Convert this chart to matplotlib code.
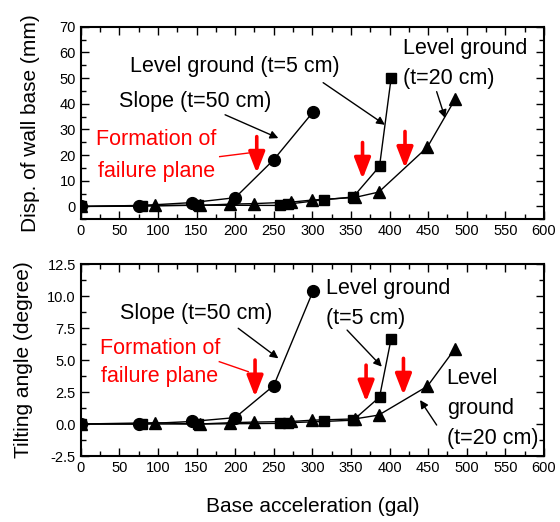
import matplotlib
matplotlib.use("Agg")
import matplotlib.pyplot as plt
from matplotlib.ticker import MultipleLocator, FormatStrFormatter

plt.rcParams['font.family'] = ['Liberation Sans', 'DejaVu Sans']

# ---- data ----
acc_slope = [0, 75, 144, 200, 250, 301]
disp_slope = [0, 0.3, 1.5, 3.4, 18.2, 36.8]
tilt_slope = [0, 0.0, 0.2, 0.5, 3.0, 10.4]

acc_lg5 = [0, 80, 152, 258, 268, 315, 353, 387, 402]
disp_lg5 = [0, 0.1, 0.5, 0.4, 0.9, 2.6, 3.7, 15.6, 49.9]
tilt_lg5 = [0, 0.0, 0.0, 0.05, 0.1, 0.2, 0.3, 2.1, 6.65]

acc_lg20 = [0, 96, 154, 193, 224, 273, 300, 355, 386, 449, 485]
disp_lg20 = [0, 0.5, 0.4, 0.9, 1.1, 1.7, 2.5, 3.5, 5.6, 23.1, 41.8]
tilt_lg20 = [0, 0.1, 0.0, 0.1, 0.15, 0.2, 0.3, 0.4, 0.7, 2.95, 5.9]

xticks = [0, 50, 100, 150, 200, 250, 300, 350, 400, 450, 500, 550, 600]

fig = plt.figure(figsize=(5.6, 5.22), dpi=100)
ax1 = fig.add_axes([0.1441, 0.5799, 0.8273, 0.369])
ax2 = fig.add_axes([0.1441, 0.1264, 0.8273, 0.3678])

def style(ax):
    ax.set_xlim(0, 600)
    ax.set_xticks(xticks)
    ax.xaxis.set_minor_locator(MultipleLocator(25))
    ax.tick_params(which='both', direction='in', top=True, right=True,
                   labelsize=10.5, width=1.0)
    ax.tick_params(which='major', length=6)
    ax.tick_params(which='minor', length=3.5)
    for s in ax.spines.values():
        s.set_linewidth(1.5)

def plot_series(ax, s, l5, l20):
    ax.plot(acc_slope, s, '-o', color='black', lw=1, ms=8.5, zorder=3)
    ax.plot(acc_lg5, l5, '-s', color='black', lw=1, ms=7, zorder=3)
    ax.plot(acc_lg20, l20, '-^', color='black', lw=1, ms=8.5, zorder=3)

def black_arrow(ax, x0, y0, x1, y1):
    ax.annotate('', xy=(x1, y1), xytext=(x0, y0),
                arrowprops=dict(arrowstyle='-|>', color='black', lw=1,
                                mutation_scale=12, shrinkA=0, shrinkB=0))

def red_arrow(ax, x, y0, y1):
    ax.annotate('', xy=(x, y1), xytext=(x, y0),
                arrowprops=dict(arrowstyle='-|>,head_length=0.9,head_width=0.35',
                                color='red', lw=2.6,
                                mutation_scale=14, shrinkA=0, shrinkB=0))

fs = 15.5

# ---- top panel ----
style(ax1)
ax1.set_ylim(-5, 70)
ax1.yaxis.set_major_locator(MultipleLocator(10))
ax1.yaxis.set_minor_locator(MultipleLocator(5))
plot_series(ax1, disp_slope, disp_lg5, disp_lg20)
ax1.set_ylabel('Disp. of wall base (mm)', fontsize=15, labelpad=14)

ax1.text(200, 54.5, 'Level ground (t=5 cm)', fontsize=fs, ha='center', va='center')
black_arrow(ax1, 314, 48.2, 394, 31.8)
ax1.text(148, 40.8, 'Slope (t=50 cm)', fontsize=fs, ha='center', va='center')
black_arrow(ax1, 187, 35.7, 256, 26.6)
ax1.text(418, 61.6, 'Level ground', fontsize=fs, ha='left', va='center')
ax1.text(418, 49.7, '(t=20 cm)', fontsize=fs, ha='left', va='center')
black_arrow(ax1, 461, 44.7, 472, 34.4)
ax1.text(98, 25.9, 'Formation of', fontsize=fs, ha='center', va='center', color='red')
ax1.text(98, 13.6, 'failure plane', fontsize=fs, ha='center', va='center', color='red')
ax1.plot([180, 217], [19.4, 20.8], color='red', lw=1)
red_arrow(ax1, 228, 27.2, 13.0)
red_arrow(ax1, 365, 24.9, 10.7)
red_arrow(ax1, 420, 29.2, 14.9)

# ---- bottom panel ----
style(ax2)
ax2.set_ylim(-2.5, 12.5)
ax2.yaxis.set_major_locator(MultipleLocator(2.5))
ax2.yaxis.set_minor_locator(MultipleLocator(1.25))
ax2.yaxis.set_major_formatter(FormatStrFormatter('%.1f'))
plot_series(ax2, tilt_slope, tilt_lg5, tilt_lg20)
ax2.set_ylabel('Tilting angle (degree)', fontsize=15, labelpad=10)
ax2.set_xlabel('Base acceleration (gal)', fontsize=15, labelpad=16)

ax2.text(150, 8.65, 'Slope (t=50 cm)', fontsize=fs, ha='center', va='center')
black_arrow(ax2, 204, 7.48, 256, 5.13)
ax2.text(318, 10.6, 'Level ground', fontsize=fs, ha='left', va='center')
ax2.text(318, 8.26, '(t=5 cm)', fontsize=fs, ha='left', va='center')
black_arrow(ax2, 345, 7.34, 390, 4.48)
ax2.text(474, 3.57, 'Level', fontsize=fs, ha='left', va='center')
ax2.text(474, 1.23, 'ground', fontsize=fs, ha='left', va='center')
ax2.text(474, -1.12, '(t=20 cm)', fontsize=fs, ha='left', va='center')
black_arrow(ax2, 461, -0.08, 439.5, 1.875)
ax2.text(102.7, 5.9, 'Formation of', fontsize=fs, ha='center', va='center', color='red')
ax2.text(102.7, 3.7, 'failure plane', fontsize=fs, ha='center', va='center', color='red')
ax2.plot([179.5, 217], [4.87, 4.09], color='red', lw=1)
red_arrow(ax2, 225.8, 5.0, 2.13)
red_arrow(ax2, 369.6, 4.6, 1.74)
red_arrow(ax2, 418, 5.13, 2.27)

fig.savefig('out.png', dpi=100)
